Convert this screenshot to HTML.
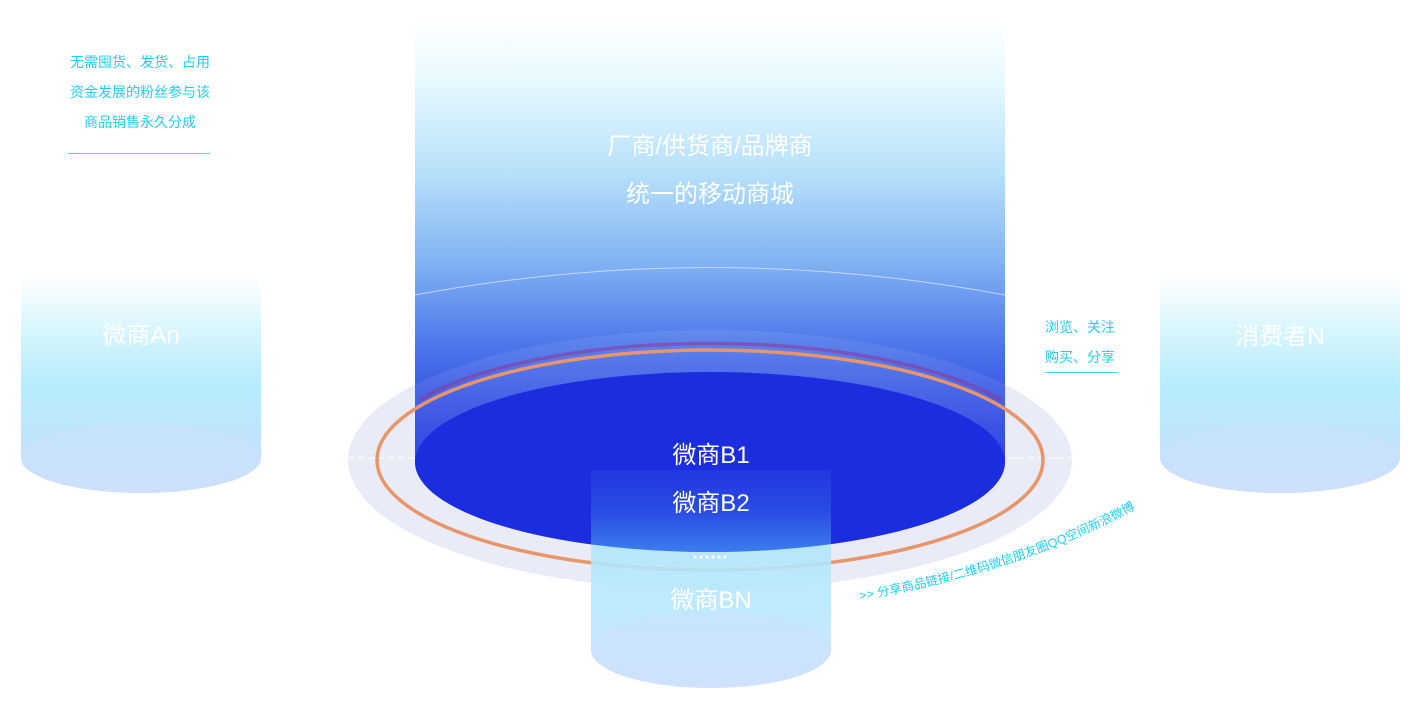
<!DOCTYPE html>
<html><head><meta charset="utf-8"><style>
html,body{margin:0;padding:0;background:#fff;}
svg{display:block;font-family:"Liberation Sans","Noto Sans CJK SC",sans-serif;}
</style></head><body>
<svg width="1410" height="708" viewBox="0 0 1410 708" xmlns="http://www.w3.org/2000/svg">
<defs>
<linearGradient id="bigg" gradientUnits="userSpaceOnUse" x1="0" y1="15" x2="0" y2="470">
<stop offset="0" stop-color="#ffffff"/>
<stop offset="0.15" stop-color="#e6f9fe"/>
<stop offset="0.35" stop-color="#b6e0fa"/>
<stop offset="0.55" stop-color="#7fb0f2"/>
<stop offset="0.72" stop-color="#4f78ea"/>
<stop offset="0.9" stop-color="#2c46e2"/>
<stop offset="1" stop-color="#2032e0"/>
</linearGradient>
<linearGradient id="side" gradientUnits="userSpaceOnUse" x1="0" y1="275" x2="0" y2="495">
<stop offset="0" stop-color="#ffffff"/>
<stop offset="0.25" stop-color="#d8f6fd"/>
<stop offset="0.5" stop-color="#b6ecfd"/>
<stop offset="0.75" stop-color="#bfe4fc"/>
<stop offset="1" stop-color="#cfe0fc"/>
</linearGradient>
<linearGradient id="bnl" gradientUnits="userSpaceOnUse" x1="0" y1="530" x2="0" y2="690">
<stop offset="0" stop-color="#b0e6fc"/>
<stop offset="0.5" stop-color="#b8e8fd"/>
<stop offset="1" stop-color="#cde0fc"/>
</linearGradient>
<linearGradient id="bnd" gradientUnits="userSpaceOnUse" x1="0" y1="475" x2="0" y2="552">
<stop offset="0" stop-color="#2238e0"/>
<stop offset="0.5" stop-color="#2a4ee4"/>
<stop offset="1" stop-color="#3c7cee"/>
</linearGradient>
<clipPath id="bigclip"><path d="M415,0 L1005,0 L1005,462 A295,90 0 0 1 415,462 Z"/></clipPath>
<clipPath id="bnclip"><rect x="591" y="470" width="240" height="230"/></clipPath>
<path id="curve" d="M860,600 Q1010,575 1130,512"/>
</defs>

<!-- side cylinders -->
<path d="M21,275 L261,275 L261,458 A120,35 0 0 1 21,458 Z" fill="url(#side)"/>
<ellipse cx="141" cy="458" rx="120" ry="35" fill="#cde0fc" opacity="0.5"/>
<path d="M1160,275 L1400,275 L1400,458 A120,35 0 0 1 1160,458 Z" fill="url(#side)"/>
<ellipse cx="1280" cy="458" rx="120" ry="35" fill="#cde0fc" opacity="0.5"/>

<!-- outer platform -->
<ellipse cx="710" cy="460" rx="362" ry="130" fill="#e9ecf7"/>
<line x1="348" y1="458" x2="1072" y2="458" stroke="#fff" stroke-dasharray="6,4" stroke-width="1"/>

<!-- big cylinder -->
<path d="M415,0 L1005,0 L1005,462 A295,90 0 0 1 415,462 Z" fill="url(#bigg)"/>
<ellipse cx="710" cy="460" rx="362" ry="130" fill="#ffffff" opacity="0.08" clip-path="url(#bigclip)"/>
<path d="M415,295 Q710,240 1005,295" stroke="#ffffff" stroke-opacity="0.55" fill="none" stroke-width="1"/>

<!-- orange ring -->
<ellipse cx="710" cy="460" rx="333" ry="110" fill="none" stroke="#e8956a" stroke-width="3.5"/>
<path d="M419,400 A333,110 0 0 1 1001,400" fill="none" stroke="#8a3aa0" stroke-width="3.5" opacity="0.6"/>

<ellipse cx="710" cy="462" rx="295" ry="90" fill="#1c2de0"/>

<!-- BN cylinder -->
<path d="M591,475 L831,475 L831,650 A120,38 0 0 1 591,650 Z" fill="url(#bnl)" opacity="0.9"/>
<ellipse cx="710" cy="462" rx="295" ry="90" fill="url(#bnd)" clip-path="url(#bnclip)"/>
<ellipse cx="711" cy="650" rx="120" ry="38" fill="#cde0fc" opacity="0.5"/>

<!-- main texts -->
<g fill="#fff" text-anchor="middle" font-size="24">
<text x="710" y="154">厂商/供货商/品牌商</text>
<text x="710" y="202">统一的移动商城</text>
<text x="711" y="463">微商B1</text>
<text x="711" y="511">微商B2</text>
<text x="711" y="608">微商BN</text>
<text x="141" y="343">微商An</text>
<text x="1280" y="344">消费者N</text>
</g>
<g fill="#fff">
<circle cx="695" cy="557" r="1.5"/><circle cx="701" cy="557" r="1.5"/><circle cx="707" cy="557" r="1.5"/><circle cx="713" cy="557" r="1.5"/><circle cx="719" cy="557" r="1.5"/><circle cx="725" cy="557" r="1.5"/>
<circle cx="125" cy="293" r="1.3"/><circle cx="131" cy="293" r="1.3"/><circle cx="137" cy="293" r="1.3"/><circle cx="143" cy="293" r="1.3"/><circle cx="149" cy="293" r="1.3"/><circle cx="155" cy="293" r="1.3"/>
<circle cx="1264" cy="293" r="1.3"/><circle cx="1270" cy="293" r="1.3"/><circle cx="1276" cy="293" r="1.3"/><circle cx="1282" cy="293" r="1.3"/><circle cx="1288" cy="293" r="1.3"/><circle cx="1294" cy="293" r="1.3"/>
</g>

<!-- cyan annotations -->
<g fill="#1fd0ee" font-size="14">
<text x="140" y="67" text-anchor="middle">无需囤货、发货、占用</text>
<text x="140" y="97" text-anchor="middle">资金发展的粉丝参与该</text>
<text x="140" y="127" text-anchor="middle">商品销售永久分成</text>
<text x="1045" y="332">浏览、关注</text>
<text x="1045" y="362">购买、分享</text>
<text font-size="12.5"><textPath href="#curve">&gt;&gt;  分享商品链接/二维码微信朋友圈QQ空间新浪微博</textPath></text>
</g>
<line x1="68" y1="153.5" x2="210" y2="153.5" stroke="#3fd8f0" stroke-width="1"/>
<line x1="1045" y1="372.5" x2="1118" y2="372.5" stroke="#3fd8f0" stroke-width="1"/>
</svg>
</body></html>
